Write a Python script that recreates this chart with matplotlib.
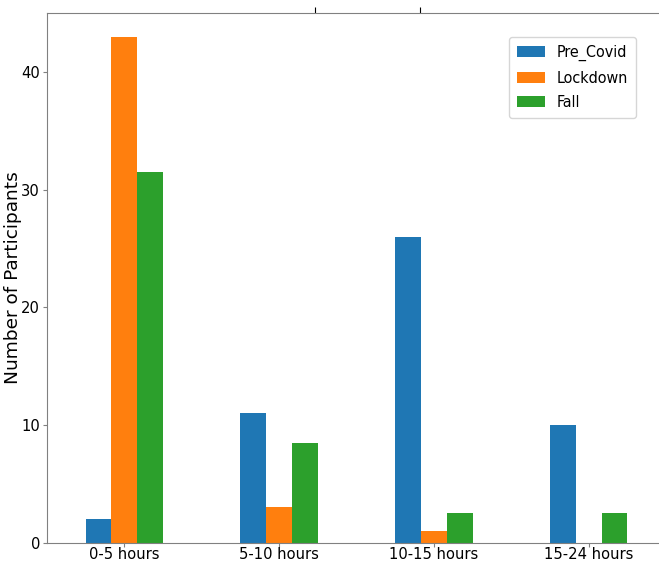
import matplotlib
matplotlib.use("Agg")
import matplotlib.pyplot as plt
import numpy as np

categories = ["0-5 hours", "5-10 hours", "10-15 hours", "15-24 hours"]
series_names = ["Pre_Covid", "Lockdown", "Fall"]
pre_covid = [2, 11, 26, 10]
lockdown = [43, 3, 1, 0]
fall = [31.5, 8.5, 2.5, 2.5]
colors = ["#1f77b4", "#ff7f0e", "#2ca02c"]

plt.rcParams["font.family"] = ["DejaVu Sans"]
plt.rcParams["font.stretch"] = "condensed"

W, H = 659, 563
fig = plt.figure(figsize=(W / 100, H / 100), dpi=100)
x0, x1 = 47, 666
y0, y1 = 542.7, 13
ax = fig.add_axes([x0 / W, (H - y0) / H, (x1 - x0) / W, (y0 - y1) / H])

x = np.arange(len(categories))
bw = 0.5 / 3
for i, (vals, name) in enumerate(zip([pre_covid, lockdown, fall], series_names)):
    ax.bar(x + (i - 1) * bw, vals, width=bw, color=colors[i], label=name)

ax.set_xlim(-0.5, 3.5)
ax.set_ylim(0, 45.0)
ax.set_xticks(x)
ax.set_xticklabels(categories, fontsize=11.8)
ax.set_yticks([0, 10, 20, 30, 40])
ax.tick_params(axis="y", labelsize=11.8, length=3, pad=2)
ax.tick_params(axis="x", length=3, pad=0)
ax.tick_params(colors="#808080", labelcolor="black")
for s in ax.spines.values():
    s.set_color("#808080")
ax.set_ylabel("Number of Participants", fontsize=13.3, fontstretch="normal")
ax.yaxis.set_label_coords((22.5 - x0) / (x1 - x0), 0.5)

sec = ax.secondary_xaxis("top")
sec.set_xticks([1.23, 1.91])
sec.set_xticklabels(["", ""])
sec.tick_params(colors="black", length=4)
sec.spines["top"].set_visible(False)

ax.legend(loc="upper right", bbox_to_anchor=(636 / W, 1 - 37 / H),
          bbox_transform=fig.transFigure, borderaxespad=0, fontsize=11.5,
          handlelength=1.8, handletextpad=0.7, borderpad=0.5,
          labelspacing=0.6)

fig.savefig("out.png", dpi=100)
